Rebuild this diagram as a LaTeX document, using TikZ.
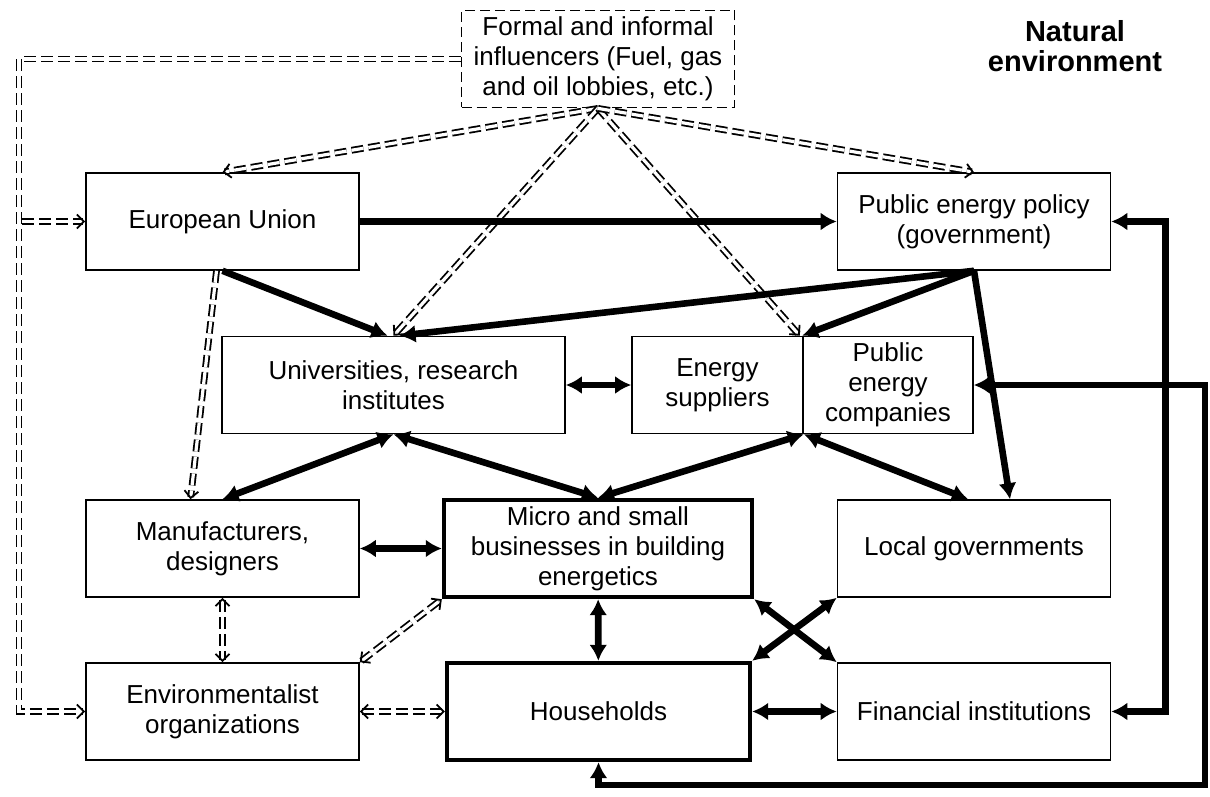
\documentclass[tikz,border=0pt]{standalone}
\usepackage{fontspec}
\setmainfont{Liberation Sans}
\usetikzlibrary{arrows.meta}
\begin{document}
\begin{tikzpicture}[x=.5pt,y=-.5pt,>={Latex[length=8pt,width=9pt]},
  font=\fontsize{13}{15}\selectfont,
  box/.style={draw,line width=.8pt,minimum width=136.5pt,minimum height=48.5pt,align=center,inner sep=1pt},
  heavybox/.style={box,line width=2.2pt},
  link/.style={line width=3.3pt},
  lobby/.style={>={Straight Barb[length=3.5pt,width=7pt]},double,double distance=1.6pt,line width=.9pt,dash pattern=on 6pt off 2.5pt}]
\useasboundingbox (0,0) rectangle (1210,797);

\node[box,dash pattern=on 5pt off 2.5pt,line width=.9pt] (infl) at (598,59) {Formal and informal\\influencers (Fuel, gas\\and oil lobbies, etc.)};
\node[font=\fontsize{14.5}{15}\selectfont\bfseries,align=center] (natenv) at (1075,46) {Natural\\environment};
\node[box] (eu) at (222.5,221.5) {European Union};
\node[box] (pep) at (974,221.5) {Public energy policy\\(government)};
\node[box,minimum width=171.5pt] (univ) at (393.5,385) {Universities, research\\institutes};
\node[box,minimum width=85.5pt] (es) at (717.5,385) {Energy\\suppliers};
\node[box,minimum width=85pt] (pec) at (888,385) {Public\\energy\\companies};
\node[box] (mf) at (222.5,548.5) {Manufacturers,\\designers};
\node[heavybox,minimum width=154pt] (micro) at (598,548.5) {Micro and small\\businesses in building\\energetics};
\node[box] (lg) at (974,548.5) {Local governments};
\node[box] (env) at (222.5,711.5) {Environmentalist\\organizations};
\node[heavybox,minimum width=151.5pt] (hh) at (598.5,711.5) {Households};
\node[box] (fi) at (974,711.5) {Financial institutions};

\coordinate (westrail) at (19,400);
\coordinate (railbranch) at (22,221.5);
\coordinate (loopcorner) at (1205,785);

\draw[lobby,->] (infl.west) -| (westrail) |- (env.west);
\draw[lobby,->] (railbranch) -- (eu.west);
\draw[lobby,->] (infl.south) -- (eu.north);
\draw[lobby,->] (infl.south) -- (univ.north);
\draw[lobby,->] (infl.south) -- ([xshift=-2pt]es.north east);
\draw[lobby,->] (infl.south) -- (pep.north);
\draw[lobby,->] ([xshift=-3pt]eu.south) -- ([xshift=-16pt]mf.north);
\draw[lobby,<->] (mf) -- (env);
\draw[lobby,<->] (env.north east) -- (micro.south west);
\draw[lobby,<->] (env) -- (hh);

\draw[link,->] (eu) -- (pep);
\draw[link,->] (eu.south) -- ([xshift=-3pt]univ.north);
\draw[link,->] (pep.south) -- ([xshift=3pt]univ.north);
\draw[link,->] (pep.south) -- (pec.north west);
\draw[link,->] (pep.south) -- ([xshift=18pt]lg.north);
\draw[link,<->] (univ) -- (es);
\draw[link,<->] (univ.south) -- (mf.north);
\draw[link,<->] (univ.south) -- (micro.north);
\draw[link,<->] (es.south east) -- (micro.north);
\draw[link,<->] (es.south east) -- ([xshift=-3pt]lg.north);
\draw[link,<->] (mf) -- (micro);
\draw[link,<->] (micro) -- (hh);
\draw[link,<->] (micro.south east) -- (fi.north west);
\draw[link,<->] (hh.north east) -- (lg.south west);
\draw[link,<->] (hh) -- (fi);
\draw[link,<->] (pep.east) -- ++(27pt,0) |- (fi.east);
\draw[link,<->] (hh.south) |- (loopcorner) |- (pec.east);

\end{tikzpicture}
\end{document}
